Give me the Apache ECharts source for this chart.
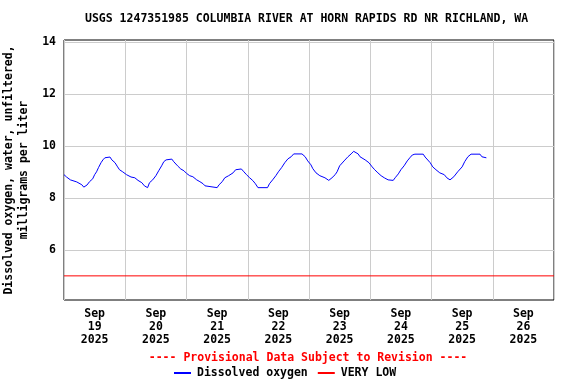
<!DOCTYPE html>
<html>
<head>
<meta charset="utf-8">
<script src="https://cdn.jsdelivr.net/npm/echarts@6/dist/echarts.min.js"></script>
<style>html,body{margin:0;padding:0;background:#fff}#c{width:576px;height:384px}</style>
</head>
<body>
<div id="c"></div>
<script>
// Hours since 2025-09-19 00:00 and dissolved oxygen (mg/L)
const hours = [0,1,2.5,5,7,7.75,9,10,11.25,12,12.75,13.5,14.5,15.25,16,16.75,18,18.75,20,21,21.75,23,24.5,26.25,27.75,29,30.5,31.5,32,32.75,33.5,34.75,36,37.1,38.25,39.1,40,40.75,42.25,43,44.5,45.75,47,48,49.25,50.5,52,53.25,54.5,55.25,56,60,60.75,62,63,64.5,66.25,67.25,68,69.5,70.5,71.5,72.75,74,75,76,79.75,80.5,81.75,83,84,85.25,86.5,87.75,89,90,93.25,94.5,95.5,96.75,97.5,98.75,100.25,102.25,103.75,105,106.25,107,108,109.75,111.25,112.5,113.5,115.25,116,118,119.5,120.75,121.75,123,124.25,125.5,127,129,129.75,131,132,133.25,134.5,135.5,136.5,137.5,140.75,141.5,143.5,144.5,145.75,147.25,149,150,151.25,152,152.75,154.25,156,157,158.25,159.5,163,163.75,165.5];
const oxygen = [8.90,8.81,8.70,8.62,8.51,8.42,8.50,8.63,8.74,8.90,9.01,9.17,9.36,9.47,9.55,9.58,9.58,9.47,9.36,9.20,9.09,9.01,8.90,8.81,8.78,8.68,8.59,8.47,8.40,8.40,8.59,8.70,8.86,9.05,9.24,9.40,9.47,9.50,9.50,9.40,9.24,9.12,9.05,8.95,8.86,8.82,8.70,8.63,8.55,8.47,8.40,8.40,8.51,8.63,8.78,8.86,8.97,9.09,9.12,9.12,9.01,8.90,8.78,8.67,8.55,8.40,8.40,8.55,8.70,8.86,9.01,9.17,9.36,9.51,9.59,9.70,9.70,9.59,9.43,9.28,9.13,8.97,8.86,8.78,8.68,8.78,8.90,9.01,9.24,9.43,9.59,9.70,9.80,9.70,9.59,9.47,9.36,9.20,9.09,8.97,8.86,8.78,8.70,8.68,8.78,8.93,9.09,9.24,9.43,9.55,9.66,9.69,9.69,9.58,9.36,9.20,9.09,8.97,8.90,8.78,8.70,8.70,8.82,9.01,9.20,9.40,9.59,9.69,9.69,9.59,9.55];
const veryLow = 5;
const dayLabels = ['Sep\n19\n2025','Sep\n20\n2025','Sep\n21\n2025','Sep\n22\n2025','Sep\n23\n2025','Sep\n24\n2025','Sep\n25\n2025','Sep\n26\n2025'];
const yTicks = [6,8,10,12,14];

const FONT = '"DejaVu Sans Mono", monospace';
const chart = echarts.init(document.getElementById('c'), null, {renderer:'canvas'});
chart.setOption({
  animation:false,
  backgroundColor:'#fff',
  title:{
    text:'USGS 1247351985 COLUMBIA RIVER AT HORN RAPIDS RD NR RICHLAND, WA',
    left:85, top:13, padding:0,
    textStyle:{fontFamily:FONT, fontWeight:'bold', fontSize:11.5, color:'#000'}
  },
  grid:{left:64, right:22, top:40, bottom:84, show:true, borderColor:'#000', borderWidth:1, backgroundColor:'#fff', containLabel:false, outerBoundsMode:'none'},
  xAxis:[{
    type:'value', min:0, max:192, interval:24,
    axisLine:{show:false}, axisTick:{show:false}, axisLabel:{show:false},
    splitLine:{show:true, lineStyle:{color:'#cccccc', width:1}}
  },{
    type:'category', data:dayLabels, boundaryGap:true, position:'bottom',
    axisLine:{show:false}, axisTick:{show:false}, splitLine:{show:false},
    axisLabel:{fontFamily:FONT, fontWeight:'bold', fontSize:11.5, color:'#000', lineHeight:13, margin:8, interval:0}
  }],
  yAxis:{
    type:'value', min:4.07, max:14.09,
    axisLine:{show:false},
    axisTick:{show:false, customValues:yTicks},
    axisLabel:{customValues:yTicks, fontFamily:FONT, fontWeight:'bold', fontSize:11.5, color:'#000', margin:8},
    splitLine:{show:true, lineStyle:{color:'#cccccc', width:1}},
    name:'Dissolved oxygen, water, unfiltered,\nmilligrams per liter',
    nameLocation:'middle', nameGap:42,
    nameTextStyle:{fontFamily:FONT, fontWeight:'bold', fontSize:11.5, color:'#000', lineHeight:15, verticalAlign:'middle', align:'center'}
  },
  legend:{
    left:173, top:367, itemWidth:17, itemHeight:2, itemGap:9, padding:0,
    textStyle:{fontFamily:FONT, fontWeight:'bold', fontSize:11.5, color:'#000', padding:[0,0,0,1]},
    data:['Dissolved oxygen','VERY LOW']
  },
  graphic:[{
    type:'text', x:308, y:358.5,
    style:{text:'---- Provisional Data Subject to Revision ----', fill:'#ff0000', font:'bold 11.5px "DejaVu Sans Mono", monospace', textAlign:'center', textVerticalAlign:'middle'}
  }],
  series:[{
    name:'Dissolved oxygen', type:'line', xAxisIndex:0,
    data:hours.map((h,i)=>[h, oxygen[i]]),
    symbol:'none', lineStyle:{color:'#0000ff', width:1}, itemStyle:{color:'#0000ff'}
  },{
    name:'VERY LOW', type:'line', xAxisIndex:0,
    data:[[0,veryLow],[192,veryLow]],
    symbol:'none', lineStyle:{color:'#ff0000', width:1}, itemStyle:{color:'#ff0000'}
  }]
});
</script>
</body>
</html>
